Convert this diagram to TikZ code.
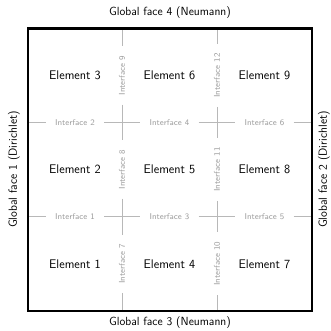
\documentclass[tikz,border=0pt]{standalone}
\usepackage{fontspec}
\usetikzlibrary{calc}
\begin{document}
\begin{tikzpicture}[x=1pt,y=-1pt,
  elem/.style={font=\sffamily\fontsize{12.5}{14}\selectfont},
  iface/.style={font=\sffamily\fontsize{8.4}{10}\selectfont, text=black!38, inner xsep=9pt, inner ysep=1pt},
  ifline/.style={draw=black!28, line width=0.8pt},
  glob/.style={font=\sffamily\fontsize{11.8}{14}\selectfont},
  outer/.style={draw=black, line width=2.4pt}]
\useasboundingbox (0,0) rectangle (331,330);
\foreach \i/\x in {0/28,1/122,2/217,3/312}
  \foreach \j/\y in {0/28.5,1/122.5,2/216.5,3/311}
    \coordinate (g\i\j) at (\x,\y);
% horizontal interfaces
\foreach \n/\s/\e in {2/01/11, 4/11/21, 6/21/31, 1/02/12, 3/12/22, 5/22/32} {
  \node[iface] (if\n) at ($(g\s)!0.5!(g\e)$) {Interface \n};
  \draw[ifline] (g\s) -- (if\n) -- (g\e);
}
% vertical interfaces
\foreach \n/\s/\e in {9/10/11, 8/11/12, 7/12/13, 12/20/21, 11/21/22, 10/22/23} {
  \node[iface, rotate=90] (if\n) at ($(g\s)!0.5!(g\e)$) {Interface \n};
  \draw[ifline] (g\s) -- (if\n) -- (g\e);
}
% elements
\node[elem] (e3) at (75,75.5) {Element 3};
\node[elem] (e6) at (169.5,75.5) {Element 6};
\node[elem] (e9) at (264.5,75.5) {Element 9};
\node[elem] (e2) at (75,169.5) {Element 2};
\node[elem] (e5) at (169.5,169.5) {Element 5};
\node[elem] (e8) at (264.5,169.5) {Element 8};
\node[elem] (e1) at (75,264) {Element 1};
\node[elem] (e4) at (169.5,264) {Element 4};
\node[elem] (e7) at (264.5,264) {Element 7};
% outer box
\draw[outer] (g00) rectangle (g33);
% global faces
\node[glob] (gf4) at (170,13) {Global face 4 (Neumann)};
\node[glob] (gf3) at (170,322.5) {Global face 3 (Neumann)};
\node[glob, rotate=90] (gf1) at (14,169.5) {Global face 1 (Dirichlet)};
\node[glob, rotate=90] (gf2) at (324,169.5) {Global face 2 (Dirichlet)};
\end{tikzpicture}
\end{document}
